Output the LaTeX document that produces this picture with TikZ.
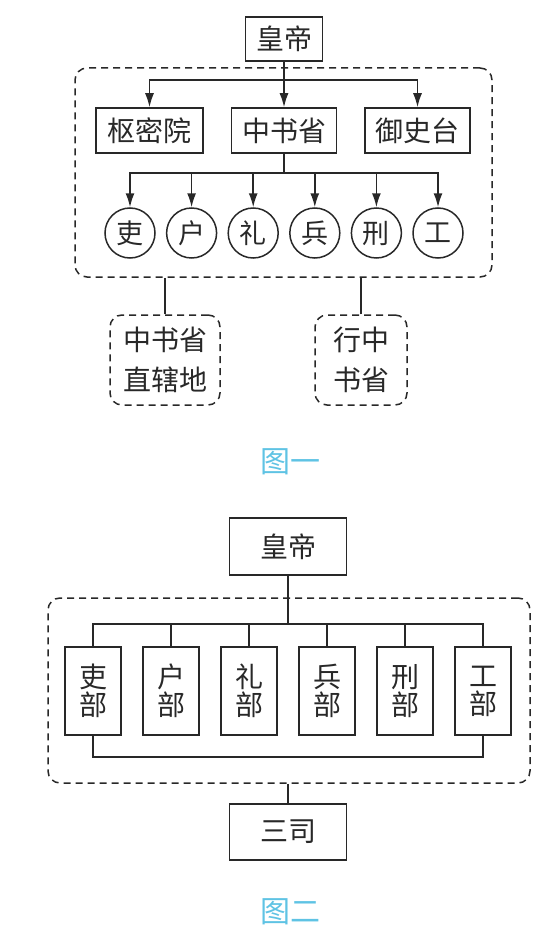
\documentclass[tikz,border=0pt]{standalone}
\usepackage{fontspec}
\setmainfont{Noto Sans CJK SC}
\usetikzlibrary{arrows.meta,positioning}
\definecolor{ink}{RGB}{40,40,40}
\definecolor{capblue}{RGB}{95,195,228}
\tikzstyle{office} = [
  rectangle, draw=ink, line width=1.5pt, inner sep=0pt, text=ink,
  minimum height=45pt, font=\fontsize{28}{30}\selectfont
]
\tikzstyle{board} = [
  circle, draw=ink, line width=1.5pt, inner sep=0pt, text=ink,
  minimum size=50pt, font=\fontsize{27}{30}\selectfont
]
\tikzstyle{region} = [
  rectangle, draw=ink, line width=1.5pt, dash pattern=on 7pt off 5pt,
  rounded corners=12pt, inner sep=0pt, text=ink, align=center,
  font=\fontsize{28}{40}\selectfont
]
\tikzstyle{ministry} = [
  rectangle, draw=ink, line width=1.5pt, inner sep=0pt, text=ink,
  minimum width=56pt, minimum height=88pt, align=center,
  font=\fontsize{28}{28}\selectfont
]
\tikzstyle{caption} = [text=capblue, font=\fontsize{30}{32}\selectfont]
\tikzstyle{link} = [draw=ink, line width=1.5pt]
\tikzstyle{arr} = [link, -{Latex[length=14pt,width=9pt]}]

\begin{document}
\begin{tikzpicture}[x=1pt, y=-1pt]
    \useasboundingbox (0,0) rectangle (554,939);

    % figure one
    \node[office, minimum width=77pt, minimum height=44pt] (emp1) at (284,39) {皇帝};
    \node[region, minimum width=417pt, minimum height=209pt] (court) at (283.5,172.5) {};

    \node[office, minimum width=107pt] (smy) at (149.5,130.5) {枢密院};
    \node[office, minimum width=105pt] (zsx) at (284,130.5) {中书省};
    \node[office, minimum width=105pt] (yst) at (417.5,130.5) {御史台};

    \node[board] (li) at (130,233) {吏};
    \node[board, right=10.1pt of li] (hu) {户};
    \node[board, right=10.1pt of hu] (lii) {礼};
    \node[board, right=10.1pt of lii] (bing) {兵};
    \node[board, right=10.1pt of bing] (xing) {刑};
    \node[board, right=10.1pt of xing] (gong) {工};

    \node[region, minimum width=110pt, minimum height=90pt] (zhili) at (165,360) {中书省\\直辖地};
    \node[region, minimum width=92pt, minimum height=90pt] (xingsheng) at (361,360) {行中\\书省};

    \node[caption] (cap1) at (290,462) {图一};

    \draw[arr] (emp1.south) -- (zsx.north);
    \coordinate (j1) at (zsx.north |- 0,80);
    \draw[arr] (j1) -| (smy.north);
    \draw[arr] (j1) -| (yst.north);

    \draw[link] (zsx.south) -- ++(0,19) coordinate (j2);
    \draw[arr] (j2) -| (li.north);
    \draw[arr] (j2) -| (hu.north);
    \draw[arr] (j2) -| (lii.north);
    \draw[arr] (j2) -| (bing.north);
    \draw[arr] (j2) -| (xing.north);
    \draw[arr] (j2) -| (gong.north);

    \draw[link] (zhili.north) -- (zhili.north |- court.south);
    \draw[link] (xingsheng.north) -- (xingsheng.north |- court.south);

    % figure two
    \node[office, minimum width=117pt, minimum height=57pt] (emp2) at (288,546.5) {皇帝};
    \node[region, minimum width=482pt, minimum height=185pt] (court2) at (289,690.5) {};

    \node[ministry] (libu) at (93,691) {吏\\部};
    \node[ministry, right=20.5pt of libu] (hubu) {户\\部};
    \node[ministry, right=20.5pt of hubu] (lbu) {礼\\部};
    \node[ministry, right=20.5pt of lbu] (bingbu) {兵\\部};
    \node[ministry, right=20.5pt of bingbu] (xingbu) {刑\\部};
    \node[ministry, right=20.5pt of xingbu] (gongbu) {工\\部};

    \node[office, minimum width=117pt, minimum height=56pt] (sansi) at (288,832) {三司};

    \node[caption] (cap2) at (290,912) {图二};

    \draw[link] (emp2.south) -- ++(0,48) coordinate (j3);
    \draw[link] (j3) -| (libu.north);
    \draw[link] (j3) -| (hubu.north);
    \draw[link] (j3) -| (lbu.north);
    \draw[link] (j3) -| (bingbu.north);
    \draw[link] (j3) -| (xingbu.north);
    \draw[link] (j3) -| (gongbu.north);
    \draw[link] (libu.south) -- ++(0,21) -| (gongbu.south);

    \draw[link] (sansi.north |- court2.south) -- (sansi.north);
  \end{tikzpicture}
\end{document}
